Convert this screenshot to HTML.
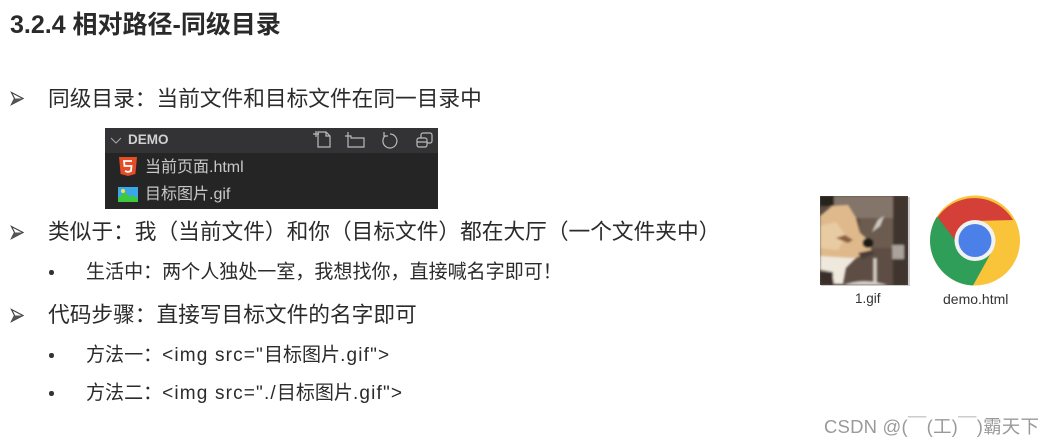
<!DOCTYPE html>
<html><head><meta charset="utf-8"><style>
html,body{margin:0;padding:0;background:#fff}
#p{position:relative;width:1055px;height:448px;overflow:hidden;background:#fff;font-family:"Liberation Sans","Microsoft YaHei","Noto Sans CJK SC",sans-serif;color:#2b2b2b}
.t{position:absolute;white-space:pre;line-height:1;filter:blur(.35px)}
.l{font-size:21.7px}
.s{font-size:19.05px}
.s i{font-style:normal;letter-spacing:1.15px}
.b{position:absolute;width:4.500px;height:4.500px;border-radius:50%;background:#333}
svg{position:absolute}
</style></head><body><div id="p">
<div class="t" style="left:10px;top:13px;font-size:25px;font-weight:bold;color:#2a2a2a">3.2.4 相对路径-同级目录</div>

<svg style="left:10px;top:91px" width="16" height="16"><path d="M1.500 1.500L13 7.500L1.500 13.500L4.500 7.500Z" fill="#fff" stroke="#444" stroke-width="1.200"/><path d="M1.500 13.500L13 7.500H4.500Z" fill="#555"/></svg>
<div class="t l" style="left:48px;top:88px">同级目录：当前文件和目标文件在同一目录中</div>

<svg style="left:105px;top:128px" width="333" height="81" viewBox="0 0 333 81">
<rect width="333" height="81" fill="#252526"/>
<rect width="333" height="25" fill="#333335"/>
<path d="M6 10l5 5 5-5" fill="none" stroke="#aaa" stroke-width="1"/>
<g fill="none" stroke="#bbb" stroke-width="1.200">
<path d="M213 4h8l4 4v11h-12zM221 4v4h4M208 6h6M211 3v6"/>
<path d="M243 8h3v2h13v9h-16zM243 4v7M240 8h6"/>
<path d="M285 6a7 7 0 1 1-5 2M279 4v4h4"/>
<rect x="312" y="10" width="10" height="9" rx="2"/><path d="M316 10v-3a2 2 0 0 1 2-2h7a2 2 0 0 1 2 2v6a2 2 0 0 1-2 2h-3M312 14h10"/>
</g>
<path d="M14 29h18l-1.600 17-7.400 2-7.400-2z" fill="#e44d26"/>
<path d="M27 33h-8l.5 5h7l-.5 5-3 1-3-1" fill="none" stroke="#fff" stroke-width="1.800"/>
<rect x="13" y="59" width="20" height="15" fill="#3aa7e8"/>
<path d="M13 74v-4l7-6 5 5 3-2 5 4v3z" fill="#3fc93f"/>
<circle cx="18" cy="63" r="2" fill="#f2e34c"/>
</svg>
<div class="t" style="left:128px;top:133px;font-size:13.500px;font-weight:bold;color:#d0d0d0">DEMO</div>
<div class="t" style="left:145px;top:160px;font-size:16px;color:#c8c8c8">当前页面.html</div>
<div class="t" style="left:145px;top:187px;font-size:16px;color:#c8c8c8">目标图片.gif</div>

<svg style="left:10px;top:225px" width="16" height="16"><path d="M1.500 1.500L13 7.500L1.500 13.500L4.500 7.500Z" fill="#fff" stroke="#444" stroke-width="1.200"/><path d="M1.500 13.500L13 7.500H4.500Z" fill="#555"/></svg>
<div class="t l" style="left:48px;top:221px">类似于：我（当前文件）和你（目标文件）都在大厅（一个文件夹中）</div>
<div class="b" style="left:49px;top:270px"></div>
<div class="t s" style="left:86px;top:263px">生活中：两个人独处一室，我想找你，直接喊名字即可！</div>

<svg style="left:10px;top:308px" width="16" height="16"><path d="M1.500 1.500L13 7.500L1.500 13.500L4.500 7.500Z" fill="#fff" stroke="#444" stroke-width="1.200"/><path d="M1.500 13.500L13 7.500H4.500Z" fill="#555"/></svg>
<div class="t l" style="left:48px;top:304px">代码步骤：直接写目标文件的名字即可</div>
<div class="b" style="left:49px;top:353px"></div>
<div class="t s" style="left:86px;top:346px">方法一：<i>&lt;img src="</i>目标图片<i>.gif"&gt;</i></div>
<div class="b" style="left:49px;top:391px"></div>
<div class="t s" style="left:86px;top:384px">方法二：<i>&lt;img src="./</i>目标图片<i>.gif"&gt;</i></div>

<svg style="left:815px;top:190px" width="100" height="100" viewBox="815 190 100 100">
<defs><filter id="f"><feGaussianBlur stdDeviation="1.100"/></filter><clipPath id="c"><rect x="820" y="196" width="88" height="89"/></clipPath></defs>
<rect x="821" y="197" width="89" height="89" fill="#ccc"/>
<g clip-path="url(#c)"><rect x="820" y="196" width="88" height="89" fill="#5d4d44"/>
<g filter="url(#f)">
<rect x="833" y="196" width="62" height="22" fill="#84756b"/>
<rect x="860" y="218" width="35" height="30" fill="#6c5b50"/>
<rect x="893" y="196" width="15" height="90" fill="#40362f"/>
<rect x="820" y="196" width="14" height="10" fill="#26211e"/>
<path d="M820 216L832 206L848 205L856 218L860 233L868 240L872 252L860 256L850 262L820 258Z" fill="#dfb98c"/>
<path d="M820 226L836 222L846 236L838 250L820 248Z" fill="#e8cba3"/>
<path d="M820 256L850 258L856 258L846 268L843 284L834 284L832 272L820 270Z" fill="#efe8dc"/>
<path d="M836 238l12 5 5-3-8-5z" fill="#8a5f3c"/>
<ellipse cx="868" cy="243" rx="5.500" ry="5" fill="#1f1a19"/>
<path d="M858 253l14-3 2 4-12 5z" fill="#4a3e38"/>
<path d="M872 232L878 220L884 216L880 226Z" fill="#cfcac2"/>
<path d="M873 258h4v26h-4z" fill="#cdc7be"/>
<path d="M892 245h12v14h-12z" fill="#a9a39b"/>
<path d="M843 285q20-8 45 0z" fill="#d8d3cb"/>
<rect x="820" y="272" width="13" height="13" fill="#3a2f29"/>
</g></g></svg>
<svg style="left:925px;top:190px" width="100" height="100" viewBox="925 190 100 100">
<circle cx="975" cy="240.500" r="45" fill="#f9c33a"/>
<path d="M1013 220A45 45 0 0 0 937 218L956 242L975 221Z" fill="#d43f38"/>
<path d="M937 216.500A45 45 0 0 0 973 285.500L991 253L955 240Z" fill="#2f9e58"/>
<circle cx="975" cy="240.500" r="20.500" fill="#f2f2f2"/>
<circle cx="975" cy="240.500" r="16.500" fill="#4b80e8"/>
</svg>
<div class="t" style="left:855px;top:292px;font-size:13.500px;color:#333">1.gif</div>
<div class="t" style="left:943px;top:292px;font-size:14px;color:#333">demo.html</div>

<div class="t" style="left:824px;top:418px;font-size:18.500px;letter-spacing:.2px;color:#9a9a9a">CSDN @(￣(工)￣)霸天下</div>
</div></body></html>
